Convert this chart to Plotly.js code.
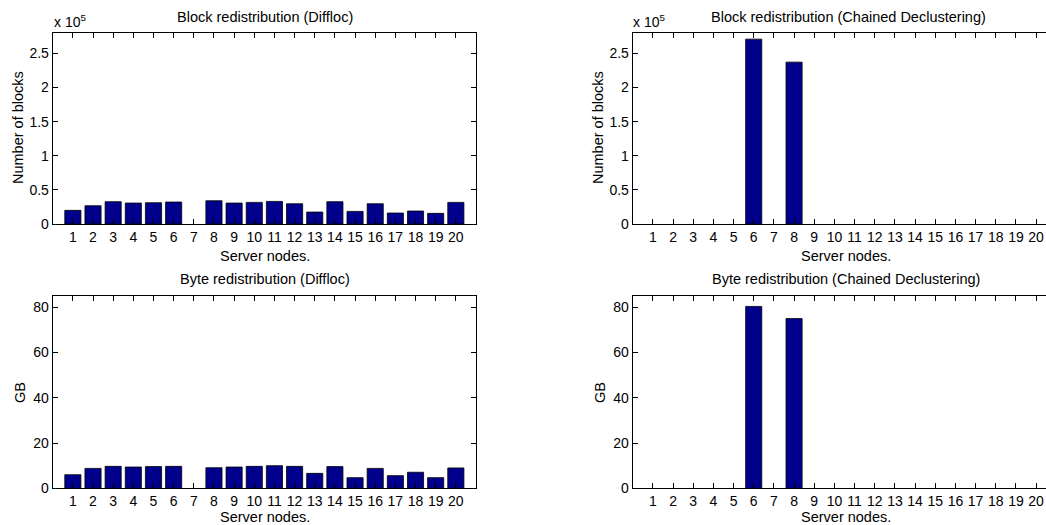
<!DOCTYPE html>
<html>
<head>
<meta charset="utf-8">
<script src="https://cdn.plot.ly/plotly-3.0.1.min.js"></script>
<style>html,body{margin:0;padding:0;background:#fff;}#chart{width:1046px;height:525px;}</style>
</head>
<body>
<div id="chart"></div>
<script>
// ---- data ----
const nodes = [1,2,3,4,5,6,7,8,9,10,11,12,13,14,15,16,17,18,19,20];
const blocksDiffloc = [20000,26800,32700,30700,31200,32200,0,34100,30700,31700,33100,29700,17500,32700,18500,29700,16100,19000,15600,31700];
const blocksChained = [0,0,0,0,0,271000,0,237300,0,0,0,0,0,0,0,0,0,0,0,0];
const gbDiffloc = [6.0,8.8,9.7,9.4,9.6,9.7,0,9.1,9.4,9.7,10.0,9.7,6.6,9.6,4.7,8.8,5.6,7.1,4.7,9.0];
const gbChained = [0,0,0,0,0,80.4,0,75.0,0,0,0,0,0,0,0,0,0,0,0,0];
const blockTickVals = [0,50000,100000,150000,200000,250000];
const blockTickText = ['0','0.5','1','1.5','2','2.5'];
const gbTickVals = [0,20,40,60,80];
const titles = ['Block redistribution (Diffloc)','Block redistribution (Chained Declustering)','Byte redistribution (Diffloc)','Byte redistribution (Chained Declustering)'];

// ---- layout helpers ----
const W = 1046, H = 525;
const px = v => v / W;
const py = v => 1 - v / H;
const FONT = '"Liberation Sans", Arial, Helvetica, sans-serif';
const barColor = 'rgb(0,0,140)';
const TICK = 14, LABEL = 14.5;

function bar(y, xa, ya) {
  return {type:'bar', x:nodes, y:y, xaxis:xa, yaxis:ya, width:0.8,
    marker:{color:barColor, line:{color:'#000', width:y.map(v => v > 0 ? 0.8 : 0)}},
    hoverinfo:'x+y', showlegend:false};
}

const data = [
  bar(blocksDiffloc,'x','y'),
  bar(blocksChained,'x2','y2'),
  bar(gbDiffloc,'x3','y3'),
  bar(gbChained,'x4','y4')
];

function xax(domain, range, anchor, mirror) {
  return {domain:domain, range:range, anchor:anchor, tickmode:'array', tickvals:nodes,
    ticks:'inside', ticklen:5, tickcolor:'#000', showline:true, linecolor:'#000', linewidth:1,
    mirror:mirror, showgrid:false, zeroline:false, tickfont:{family:FONT, size:TICK, color:'#000'}, fixedrange:true};
}
function yax(domain, range, anchor, tv, tt, mirror) {
  const o = {domain:domain, range:range, anchor:anchor, tickmode:'array', tickvals:tv,
    ticks:'inside', ticklen:5, tickcolor:'#000', showline:true, linecolor:'#000', linewidth:1,
    mirror:mirror, showgrid:false, zeroline:false, tickfont:{family:FONT, size:TICK, color:'#000'}, fixedrange:true};
  if (tt) o.ticktext = tt;
  return o;
}

const leftX = [px(52.7), px(476)];
const rightX = [px(632.7), 1];
const topY = [py(224), py(33)];
const botY = [py(488.3), py(296)];

function ann(text, x, y, opts) {
  return Object.assign({text:text, x:px(x), y:py(y), xref:'paper', yref:'paper', showarrow:false,
    xanchor:'center', yanchor:'middle', font:{family:FONT, size:LABEL, color:'#000'}}, opts||{});
}

const layout = {
  width:W, height:H, margin:{l:0,r:0,t:0,b:0}, paper_bgcolor:'#fff', plot_bgcolor:'#fff',
  bargap:0, showlegend:false,
  xaxis: xax(leftX, [0,21], 'y', 'ticks'),
  yaxis: yax(topY, [0,280000], 'x', blockTickVals, blockTickText, 'ticks'),
  xaxis2: xax(rightX, [0,20.49], 'y2', 'ticks'),
  yaxis2: yax(topY, [0,280000], 'x2', blockTickVals, blockTickText, false),
  xaxis3: xax(leftX, [0,21], 'y3', 'ticks'),
  yaxis3: yax(botY, [0,85], 'x3', gbTickVals, null, 'ticks'),
  xaxis4: xax(rightX, [0,20.49], 'y4', 'ticks'),
  yaxis4: yax(botY, [0,85], 'x4', gbTickVals, null, false),
  annotations: [
    ann(titles[0], 265, 17),
    ann(titles[1], 848, 17),
    ann(titles[2], 265, 279),
    ann(titles[3], 846, 279),
    ann('x 10<sup>5</sup>', 52, 21, {xanchor:'left', font:{family:FONT, size:TICK, color:'#000'}}),
    ann('x 10<sup>5</sup>', 631, 21, {xanchor:'left', font:{family:FONT, size:TICK, color:'#000'}}),
    ann('Server nodes.', 265, 256),
    ann('Server nodes.', 846, 256),
    ann('Server nodes.', 265, 517),
    ann('Server nodes.', 846, 517),
    ann('Number of blocks', 18, 128, {textangle:-90}),
    ann('Number of blocks', 598, 128, {textangle:-90}),
    ann('GB', 20, 393, {textangle:-90}),
    ann('GB', 600, 393, {textangle:-90})
  ]
};

Plotly.newPlot('chart', data, layout, {staticPlot:true, displayModeBar:false});
</script>
</body>
</html>
